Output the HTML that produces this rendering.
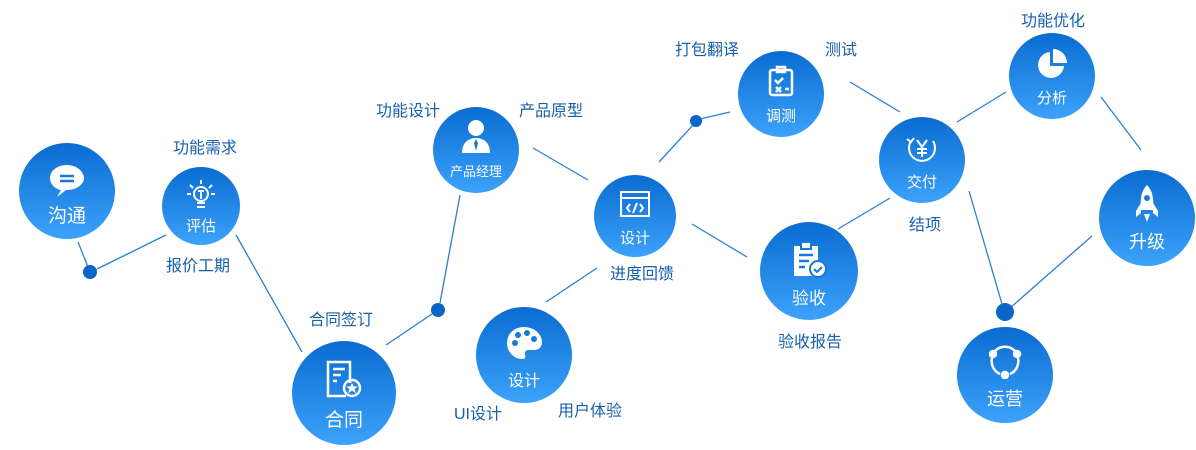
<!DOCTYPE html>
<html><head><meta charset="utf-8"><style>
body{margin:0;width:1196px;height:450px;background:#fff;position:relative;overflow:hidden;font-family:"Liberation Sans","Noto Sans CJK SC",sans-serif}
.c{position:absolute;border-radius:50%;background:linear-gradient(#0a6cd0,#3ca2fb);color:#fff;text-align:center}
.c span{position:absolute;left:0;right:0}
.c svg{position:absolute;left:50%;transform:translateX(-50%)}
.l{position:absolute;color:#1760ad;font-size:16px;white-space:nowrap;transform:translate(-50%,-50%)}
svg.bg{position:absolute;left:0;top:0}
</style></head><body>
<svg class="bg" width="1196" height="450">
<g stroke="#2a7fd4" stroke-width="1.3">
<line x1="78" y1="242" x2="88" y2="267"/><line x1="97" y1="269" x2="166" y2="235"/>
<line x1="236" y1="235" x2="302" y2="352"/>
<line x1="386" y1="345" x2="432" y2="314"/>
<line x1="440" y1="303" x2="460" y2="195"/>
<line x1="533" y1="148" x2="588" y2="180"/>
<line x1="546" y1="302" x2="597" y2="268"/>
<line x1="659" y1="162" x2="694" y2="124"/><line x1="700" y1="119" x2="730" y2="112"/>
<line x1="692" y1="224" x2="747" y2="257"/>
<line x1="838" y1="229" x2="890" y2="198"/>
<line x1="850" y1="82" x2="900" y2="112"/>
<line x1="957" y1="122" x2="1006" y2="92"/>
<line x1="1101" y1="97" x2="1141" y2="150"/>
<line x1="969" y1="191" x2="1002" y2="304"/>
<line x1="1010" y1="308" x2="1092" y2="236"/>
</g>
<g fill="#0b65c6"><circle cx="90" cy="272" r="7"/><circle cx="438" cy="310" r="7"/><circle cx="696" cy="121" r="6"/><circle cx="1005" cy="312" r="9"/></g>
</svg>
<div class="c" style="left:19px;top:143px;width:96px;height:96px"><svg style="top:18px" width="40" height="40" viewBox="0 0 40 40"><path d="M20 4C10 4 3 10 3 17c0 6 5 11 11 12l-4 7 9-7h1c10 0 17-6 17-12S30 4 20 4z" fill="#fff"/><path d="M13 15h14M13 20h14" stroke="#1a78d8" stroke-width="2.5"/></svg><span style="top:58px;font-size:19px">沟通</span></div>
<div class="c" style="left:162px;top:167px;width:78px;height:78px"><svg style="top:12px" width="32" height="34" viewBox="0 0 32 34" fill="none" stroke="#fff" stroke-width="2"><circle cx="16" cy="15" r="7"/><path d="M13 12h6M16 12v8M12 24h8M12 28h8M16 1v4M5 6l3 3M27 6l-3 3M2 15h4M26 15h4"/></svg><span style="top:48px;font-size:15px">评估</span></div>
<div class="c" style="left:292px;top:341px;width:104px;height:104px"><svg style="top:18px" width="40" height="40" viewBox="0 0 40 40" fill="none" stroke="#fff" stroke-width="2.5"><path d="M26 24V3H4v34h18"/><path d="M9 10h12M9 16h8M9 22h4"/><circle cx="28" cy="29" r="8"/><path d="M28 25l1.5 3h3l-2.5 2 1 3-3-2-3 2 1-3-2.5-2h3z" fill="#fff" stroke-width="1"/></svg><span style="top:64px;font-size:19px">合同</span></div>
<div class="c" style="left:433px;top:107px;width:86px;height:86px"><svg style="top:12px" width="30" height="34" viewBox="0 0 30 34" fill="#fff"><circle cx="15" cy="9" r="8"/><path d="M1 34c0-10 6-15 14-15s14 5 14 15z"/><path d="M15 20l-2 4 2 8 2-8z" fill="#1a78d8"/></svg><span style="top:54px;font-size:13px">产品经理</span></div>
<div class="c" style="left:594px;top:175px;width:82px;height:82px"><svg style="top:15px" width="32" height="28" viewBox="0 0 32 28" fill="none" stroke="#fff" stroke-width="2"><rect x="2" y="2" width="28" height="24"/><path d="M2 8h28M11 14l-3 4 3 4M21 14l3 4-3 4M18 13l-4 10"/></svg><span style="top:52px;font-size:15px">设计</span></div>
<div class="c" style="left:476px;top:307px;width:96px;height:96px"><svg style="top:18px" width="38" height="36" viewBox="0 0 38 36"><path d="M19 2C9 2 2 9 2 18c0 9 7 16 15 16 3 0 4-2 3-4-1-3 1-5 4-5h5c5 0 8-3 8-8C37 9 29 2 19 2z" fill="#fff"/><g fill="#1a78d8"><circle cx="10" cy="18" r="3"/><circle cx="13" cy="10" r="3"/><circle cx="22" cy="8" r="3"/><circle cx="29" cy="14" r="3"/></g></svg><span style="top:60px;font-size:16px">设计</span></div>
<div class="c" style="left:738px;top:51px;width:86px;height:86px"><svg style="top:14px" width="28" height="32" viewBox="0 0 28 32" fill="none" stroke="#fff" stroke-width="2.5"><rect x="3" y="5" width="22" height="25" rx="2"/><path d="M10 2h8v5h-8zM8 15l3 3 5-5M9 22l5 5M14 22l-5 5M18 24h4"/></svg><span style="top:54px;font-size:15px">调测</span></div>
<div class="c" style="left:760px;top:222px;width:98px;height:98px"><svg style="top:18px" width="36" height="38" viewBox="0 0 36 38"><path d="M3 6h24v30H3z" fill="#fff"/><rect x="10" y="2" width="10" height="7" fill="#fff" stroke="#1a78d8" stroke-width="2"/><path d="M8 15h14M8 21h10M8 27h6" stroke="#1a78d8" stroke-width="2.5"/><circle cx="27" cy="29" r="8" fill="#fff" stroke="#1a78d8" stroke-width="2"/><path d="M23 29l3 3 5-5" stroke="#1a78d8" stroke-width="2" fill="none"/></svg><span style="top:62px;font-size:17px">验收</span></div>
<div class="c" style="left:879px;top:117px;width:86px;height:86px"><svg style="top:14px" width="34" height="34" viewBox="0 0 34 34" fill="none" stroke="#fff" stroke-width="2"><path d="M28 10A13 13 0 1 1 6 10"/><path d="M2 8l4 3 3-4"/><path d="M12 9l5 7 5-7M17 16v10M12 18h10M12 22h10"/></svg><span style="top:54px;font-size:15px">交付</span></div>
<div class="c" style="left:1009px;top:33px;width:86px;height:86px"><svg style="top:15px" width="32" height="32" viewBox="0 0 32 32" fill="#fff"><path d="M14 4A13 13 0 1 0 28 18H14z"/><path d="M17 1v14h14A14 14 0 0 0 17 1z"/></svg><span style="top:54px;font-size:15px">分析</span></div>
<div class="c" style="left:1099px;top:170px;width:96px;height:96px"><svg style="top:14px" width="26" height="40" viewBox="0 0 26 40" fill="#fff"><path d="M13 1C7 7 6 16 7 26h12c1-10 0-19-6-25z"/><path d="M7 19l-5 8v6l5-4zM19 19l5 8v6l-5-4zM10 30h6l-3 8z"/><circle cx="13" cy="14" r="3" fill="#1a78d8"/></svg><span style="top:58px;font-size:18px">升级</span></div>
<div class="c" style="left:957px;top:327px;width:96px;height:96px"><svg style="top:16px" width="36" height="36" viewBox="0 0 36 36" fill="none" stroke="#fff" stroke-width="2.5"><path d="M8 8A14 14 0 0 1 28 8M31 15A14 14 0 0 1 23 31M13 31A14 14 0 0 1 5 15"/><circle cx="6" cy="11" r="3" fill="#fff"/><circle cx="30" cy="11" r="3" fill="#fff"/><circle cx="18" cy="32" r="3" fill="#fff"/></svg><span style="top:58px;font-size:18px">运营</span></div>
<div class="l" style="left:205px;top:146px">功能需求</div>
<div class="l" style="left:198px;top:264px">报价工期</div>
<div class="l" style="left:341px;top:318px">合同签订</div>
<div class="l" style="left:408px;top:109px">功能设计</div>
<div class="l" style="left:551px;top:109px">产品原型</div>
<div class="l" style="left:707px;top:48px">打包翻译</div>
<div class="l" style="left:841px;top:48px">测试</div>
<div class="l" style="left:1053px;top:19px">功能优化</div>
<div class="l" style="left:642px;top:272px">进度回馈</div>
<div class="l" style="left:925px;top:223px">结项</div>
<div class="l" style="left:810px;top:340px">验收报告</div>
<div class="l" style="left:478px;top:412px">UI设计</div>
<div class="l" style="left:590px;top:409px">用户体验</div>
</body></html>
